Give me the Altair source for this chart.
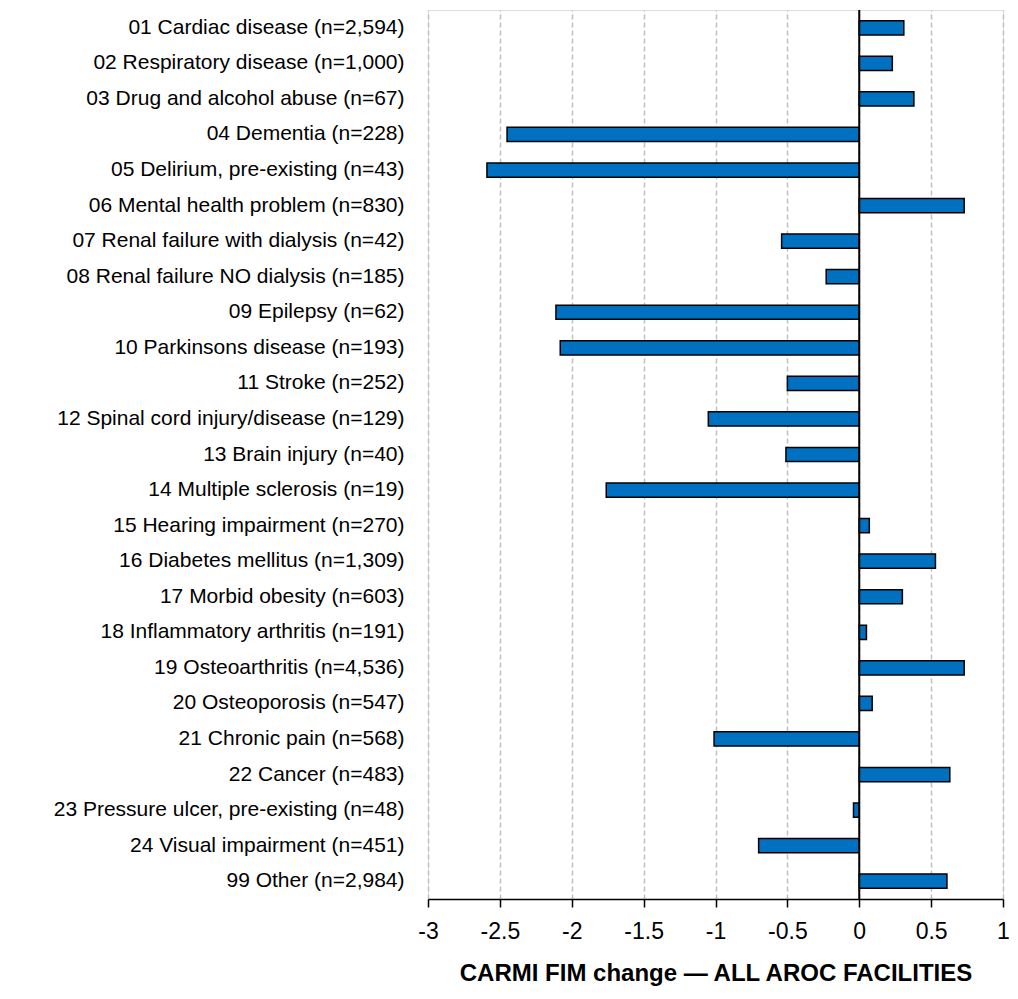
import altair as alt
import pandas as pd

categories = [
    "01 Cardiac disease (n=2,594)",
    "02 Respiratory disease (n=1,000)",
    "03 Drug and alcohol abuse (n=67)",
    "04 Dementia (n=228)",
    "05 Delirium, pre-existing (n=43)",
    "06 Mental health problem (n=830)",
    "07 Renal failure with dialysis (n=42)",
    "08 Renal failure NO dialysis (n=185)",
    "09 Epilepsy (n=62)",
    "10 Parkinsons disease (n=193)",
    "11 Stroke (n=252)",
    "12 Spinal cord injury/disease (n=129)",
    "13 Brain injury (n=40)",
    "14 Multiple sclerosis (n=19)",
    "15 Hearing impairment (n=270)",
    "16 Diabetes mellitus (n=1,309)",
    "17 Morbid obesity (n=603)",
    "18 Inflammatory arthritis (n=191)",
    "19 Osteoarthritis (n=4,536)",
    "20 Osteoporosis (n=547)",
    "21 Chronic pain (n=568)",
    "22 Cancer (n=483)",
    "23 Pressure ulcer, pre-existing (n=48)",
    "24 Visual impairment (n=451)",
    "99 Other (n=2,984)",
]
values = [
    0.31, 0.23, 0.38, -2.45, -2.59, 0.73, -0.54, -0.23, -2.11, -2.08,
    -0.50, -1.05, -0.51, -1.76, 0.07, 0.53, 0.30, 0.05, 0.73, 0.09,
    -1.01, 0.63, -0.04, -0.70, 0.61,
]
x_ticks = [-3, -2.5, -2, -1.5, -1, -0.5, 0, 0.5, 1]
x_title = "CARMI FIM change \u2014 ALL AROC FACILITIES"

df = pd.DataFrame({"cat": categories, "val": values})
FONT = "Liberation Sans"

bars = alt.Chart(df).mark_bar(
    color="#0070C0", stroke="black", strokeWidth=1.5
).encode(
    x=alt.X(
        "val:Q",
        scale=alt.Scale(domain=[-3, 1], nice=False, zero=False),
        axis=alt.Axis(
            values=x_ticks,
            labelExpr="'' + datum.value",
            title=x_title,
            grid=True,
            gridDash=[5, 3],
            gridColor="#c0c0c0",
            gridWidth=1.5,
            domainColor="black",
            domainWidth=1.5,
            tickColor="black",
            tickWidth=1.5,
            tickSize=8,
            labelFont=FONT,
            labelFontSize=23,
            labelColor="black",
            labelPadding=13,
            labelFlush=False,
            titleFont=FONT,
            titleFontSize=24,
            titleFontWeight="bold",
            titleColor="black",
            titlePadding=18,
        ),
    ),
    y=alt.Y(
        "cat:N",
        sort=categories,
        scale=alt.Scale(paddingInner=0.6, paddingOuter=0.3),
        axis=alt.Axis(
            title=None,
            domain=False,
            ticks=False,
            grid=False,
            labelFont=FONT,
            labelFontSize=21,
            labelColor="black",
            labelPadding=24,
            labelLimit=500,
        ),
    ),
)

zero = alt.Chart(pd.DataFrame({"z": [0]})).mark_rule(
    color="black", strokeWidth=2
).encode(x="z:Q")

chart = alt.layer(bars, zero).properties(
    width=575,
    height=889,
    autosize="none",
    padding={"left": 420, "top": 2, "right": 7, "bottom": 90},
).configure_view(stroke=None).configure(background="white")

chart.save("out.html", embed_options={"renderer": "svg", "actions": False})
